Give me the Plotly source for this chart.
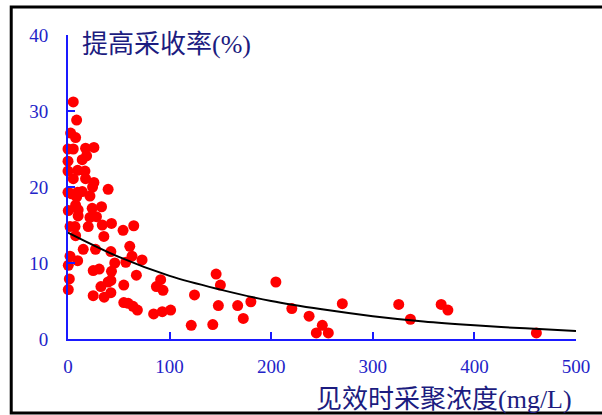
import plotly.graph_objects as go

# scatter data: concentration at breakthrough (mg/L), EOR increment (%)
conc = [5.2, 8.5, 2.6, 7.5, 0.0, 5.2, 17.3, 25.5, 18.3, 14.0, 0.0, 0.0, 9.5, 16.7,
        5.2, 17.3, 25.5, 24.2, 39.5, 0.0, 3.6, 9.5, 14.0, 21.6, 8.5, 0.3, 7.5, 10.0,
        23.8, 33.0, 10.0, 21.6, 28.0,
        2.0, 6.9, 19.9, 33.7, 42.8, 54.2, 64.7, 7.5, 35.3, 15.0, 27.1, 42.2, 60.8,
        63.0, 72.9, 2.0, 0.3, 9.5, 46.0, 56.9, 24.8, 30.7, 42.8, 67.3, 1.3, 39.5,
        42.2, 54.9, 91.2, 32.4, 87.0, 0.3, 93.5, 42.2, 24.8, 35.6, 54.9, 59.2, 64.0,
        68.3, 84.3, 92.8, 101.0,
        121.3, 124.5, 142.5, 145.8, 150.0, 148.0, 167.0, 172.5, 180.0, 204.6, 220.3,
        237.3, 244.4, 250.3, 256.2, 270.0, 325.5, 337.0, 367.3, 373.9, 461.0]
eor = [31.2, 28.8, 27.1, 26.5, 25.0, 25.0, 25.1, 25.2, 24.1, 23.6, 23.4, 22.1, 22.2, 22.1,
       21.1, 21.1, 20.6, 20.0, 19.7, 19.3, 19.1, 19.3, 19.4, 18.8, 18.7, 16.9, 17.6, 17.0,
       17.2, 17.4, 16.2, 16.0, 16.1,
       14.8, 14.8, 14.8, 15.0, 15.2, 14.3, 14.9, 13.6, 13.5, 11.8, 11.8, 11.5, 12.2,
       10.9, 10.4, 10.9, 9.7, 10.3, 10.0, 10.1, 9.0, 9.2, 8.9, 8.4, 7.9, 7.5,
       7.7, 7.1, 7.8, 6.9, 6.9, 6.5, 6.4, 6.1, 5.7, 5.5, 4.8, 4.7, 4.3,
       3.8, 3.3, 3.6, 3.8,
       1.8, 5.8, 1.9, 8.55, 7.1, 4.4, 4.4, 2.7, 4.9, 7.5, 4.0,
       3.0, 0.8, 1.8, 0.8, 4.65, 4.55, 2.6, 4.55, 3.8, 0.8]

# trend line
trend_x = [0, 50, 100, 150, 200, 250, 300, 350, 400, 450, 500]
trend_y = [14.0, 10.8, 8.3, 6.5, 5.0, 3.9, 3.0, 2.3, 1.8, 1.4, 1.05]

x_ticks = [0, 100, 200, 300, 400, 500]
y_ticks = [0, 10, 20, 30, 40]
x_title_cn, x_title_unit = "见效时采聚浓度", "(mg/L)"
y_title_cn, y_title_unit = "提高采收率", "(%)"

blue = "#1a1aff"
tick_color = "#2323c8"
title_color = "#1c1c80"
serif = "'Liberation Serif', serif"


def title_html(cn, unit, unit_size):
    return (cn + "<span style='font-family:Liberation Serif, serif;font-size:%dpx'>%s</span>"
            % (unit_size, unit))


fig = go.Figure()
fig.add_trace(go.Scatter(x=conc, y=eor, mode="markers",
                         marker=dict(color="#ff0000", size=11, line=dict(width=0)),
                         showlegend=False, cliponaxis=False))
fig.add_trace(go.Scatter(x=trend_x, y=trend_y, mode="lines",
                         line=dict(color="black", width=2, shape="spline"),
                         showlegend=False))

W = 510.0
H = 304.0
fig.update_layout(
    width=602, height=415,
    margin=dict(l=68, r=24, t=35, b=76),
    paper_bgcolor="white", plot_bgcolor="white",
    xaxis=dict(range=[0, 500], tickvals=x_ticks, ticks="inside", ticklen=7,
               tickcolor=blue, tickwidth=2, showline=True, linecolor=blue, linewidth=2,
               showgrid=False, zeroline=False, ticklabelstandoff=9,
               tickfont=dict(family=serif, size=19, color=tick_color)),
    yaxis=dict(range=[0, 40], tickvals=y_ticks, ticks="inside", ticklen=7,
               tickcolor=blue, tickwidth=2, showline=True, linecolor=blue, linewidth=2,
               showgrid=False, zeroline=False, ticklabelstandoff=14,
               tickfont=dict(family=serif, size=19, color=tick_color)),
    shapes=[dict(type="rect", xref="paper", yref="paper",
                 x0=-57 / W, x1=(610 - 68) / W, y0=-(413 - 339) / H, y1=(339 - 7) / H,
                 line=dict(color="black", width=3), layer="below")],
    annotations=[
        dict(text=title_html(y_title_cn, y_title_unit, 26), xref="paper", yref="paper",
             x=12 / W, y=(339 - 41) / H,
             xanchor="left", yanchor="middle", showarrow=False,
             font=dict(family="Noto Sans CJK SC", size=26, color=title_color)),
        dict(text=title_html(x_title_cn, x_title_unit, 26), xref="paper", yref="paper",
             x=508 / W, y=(339 - 396) / H,
             xanchor="right", yanchor="middle", showarrow=False,
             font=dict(family="Noto Sans CJK SC", size=26, color=title_color)),
    ],
)

fig.write_html("out.html")
